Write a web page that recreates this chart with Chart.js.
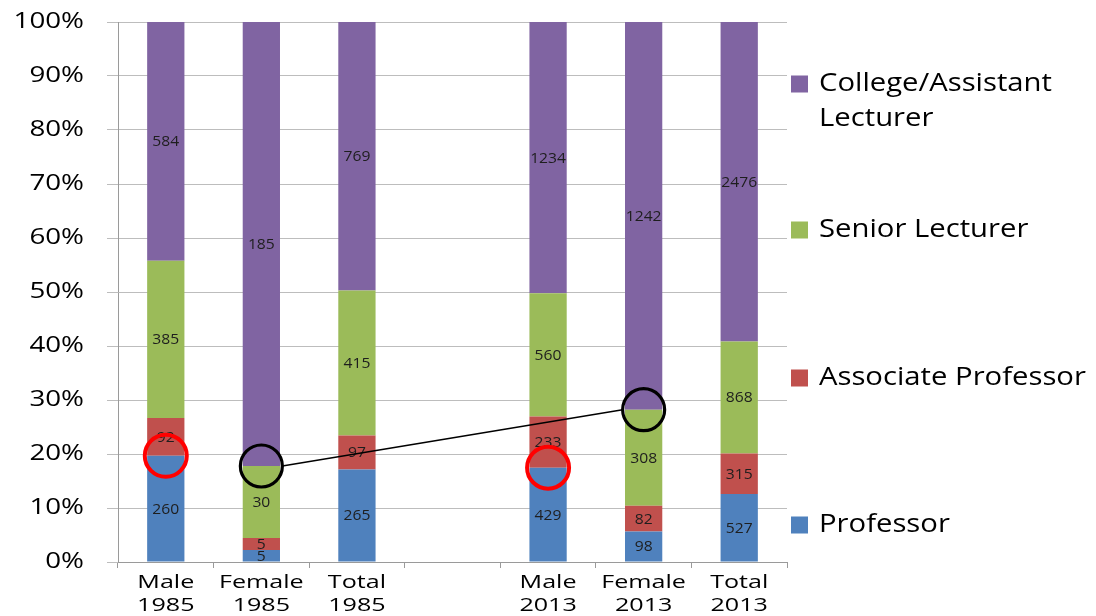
<!DOCTYPE html>
<html>
<head>
<meta charset="utf-8">
<title>Academic staff by grade and gender, 1985 and 2013</title>
<script src="https://cdn.jsdelivr.net/npm/chart.js@4.4.1/dist/chart.umd.min.js"></script>
<style>
  html, body { margin: 0; padding: 0; background: #ffffff; }
  #wrap { position: relative; width: 1096px; height: 616px; }
</style>
</head>
<body>
<div id="wrap"><canvas id="chart"></canvas></div>
<script>
// Categories (the blank entry keeps a gap between the two years)
const categories = [
  ['Male', '1985'], ['Female', '1985'], ['Total', '1985'],
  '',
  ['Male', '2013'], ['Female', '2013'], ['Total', '2013']
];

// Head counts per grade
const professor          = [260,  5, 265, null,  429,   98,  527];
const associateProfessor = [ 92,  5,  97, null,  233,   82,  315];
const seniorLecturer     = [385, 30, 415, null,  560,  308,  868];
const assistantLecturer  = [584, 185, 769, null, 1234, 1242, 2476];

const seriesNames  = ['Professor', 'Associate Professor', 'Senior Lecturer', 'College/Assistant Lecturer'];
const seriesColors = ['#4F81BD', '#C0504D', '#9BBB59', '#8064A2'];

// Percent axis ticks
const yTicks = [0, 10, 20, 30, 40, 50, 60, 70, 80, 90, 100];

// Highlighted stack boundaries: category index and how many grades lie below the mark
const redMarks   = [{ cat: 0, below: 1 }, { cat: 4, below: 1 }];
const blackMarks = [{ cat: 1, below: 3 }, { cat: 5, below: 3 }];

const counts = [professor, associateProfessor, seniorLecturer, assistantLecturer];
const totals = categories.map((_, i) =>
  counts.every(s => s[i] == null) ? null : counts.reduce((a, s) => a + (s[i] || 0), 0));
const toPercent = s => s.map((v, i) => v == null ? null : v / totals[i] * 100);
const cumulative = (cat, below) =>
  counts.slice(0, below).reduce((a, s) => a + s[cat], 0) / totals[cat] * 100;

const FONT = '"Open Sans", "Liberation Sans", sans-serif';

// Wide lettering: fillText draws glyphs stretched horizontally about their anchor
function enableStretch(ctx) {
  if (ctx.__stretchPatched) return;
  const orig = ctx.fillText;
  ctx.textStretch = 1;
  ctx.fillText = function (t, x, y, mw) {
    const s = this.textStretch || 1;
    if (s === 1) return orig.call(this, t, x, y, mw);
    this.save();
    this.translate(x, y);
    this.scale(s, 1);
    orig.call(this, t, 0, 0);
    this.restore();
  };
  ctx.__stretchPatched = true;
}

const axisStretch = {
  id: 'axisStretch',
  beforeDraw(chart) { enableStretch(chart.ctx); chart.ctx.textStretch = 1.32; }
};

// Head-count labels centred in each segment
const countLabels = {
  id: 'countLabels',
  afterDatasetsDraw(chart) {
    const ctx = chart.ctx;
    ctx.save();
    ctx.textStretch = 1.12;
    ctx.font = '14px ' + FONT;
    ctx.fillStyle = '#1e1e1e';
    ctx.textAlign = 'center';
    ctx.textBaseline = 'middle';
    chart.data.datasets.forEach((ds, i) => {
      chart.getDatasetMeta(i).data.forEach((bar, j) => {
        const n = ds.counts[j];
        if (n == null) return;
        const p = bar.getProps(['x', 'y', 'base'], true);
        ctx.fillText(String(n), p.x, (p.y + p.base) / 2 + 1);
      });
    });
    ctx.restore();
  }
};

// Circles on the highlighted boundaries, black ones joined by a line
const highlights = {
  id: 'highlights',
  afterDraw(chart) {
    const ctx = chart.ctx, xs = chart.scales.x, ys = chart.scales.y;
    const r = 21;
    const pos = m => ({ x: xs.getPixelForValue(m.cat), y: ys.getPixelForValue(cumulative(m.cat, m.below)) });
    ctx.save();
    ctx.strokeStyle = '#ff0000';
    ctx.lineWidth = 4;
    redMarks.forEach(m => {
      const p = pos(m);
      ctx.beginPath(); ctx.arc(p.x, p.y, r, 0, Math.PI * 2); ctx.stroke();
    });
    ctx.strokeStyle = '#000000';
    ctx.lineWidth = 3.2;
    const pts = blackMarks.map(pos);
    pts.forEach(p => { ctx.beginPath(); ctx.arc(p.x, p.y, r, 0, Math.PI * 2); ctx.stroke(); });
    ctx.lineWidth = 1.5;
    ctx.beginPath();
    ctx.moveTo(pts[0].x + r, pts[0].y);
    ctx.lineTo(pts[1].x - r, pts[1].y);
    ctx.stroke();
    ctx.restore();
  }
};

// Legend down the right-hand side, top grade first
const sideLegend = {
  id: 'sideLegend',
  afterDraw(chart) {
    const ctx = chart.ctx;
    const x0 = chart.chartArea.right + 4;
    const rows = [84, 230, 378, 525];
    ctx.save();
    ctx.textStretch = 1.17;
    ctx.font = '25px ' + FONT;
    ctx.textBaseline = 'middle';
    ctx.textAlign = 'left';
    const ds = chart.data.datasets.slice().reverse();
    ds.forEach((d, k) => {
      const cy = rows[k];
      ctx.fillStyle = d.backgroundColor;
      ctx.fillRect(x0, cy - 8.5, 17, 17);
      ctx.fillStyle = '#000000';
      const words = d.label.split(' ');
      const lines = words.length > 1 && d.label.length > 20 ? [words[0], words.slice(1).join(' ')] : [d.label];
      lines.forEach((t, li) => ctx.fillText(t, x0 + 28, cy + li * 35));
    });
    ctx.textStretch = 1;
    ctx.restore();
  }
};

new Chart(document.getElementById('chart'), {
  type: 'bar',
  data: {
    labels: categories,
    datasets: counts.map((s, i) => ({
      label: seriesNames[i],
      data: toPercent(s),
      counts: s,
      backgroundColor: seriesColors[i],
      borderWidth: 0,
      barPercentage: 0.39,
      categoryPercentage: 1
    }))
  },
  options: {
    responsive: true,
    maintainAspectRatio: false,
    animation: false,
    devicePixelRatio: 1,
    layout: { padding: { left: 0, right: 309, top: 22, bottom: 0 } },
    plugins: {
      legend: { display: false },
      tooltip: { enabled: false }
    },
    scales: {
      x: {
        stacked: true,
        grid: { display: true, drawOnChartArea: false, offset: true, tickLength: 6, color: '#9a9a9a' },
        border: { display: true, color: '#9a9a9a', width: 1 },
        ticks: {
          autoSkip: false, maxRotation: 0, minRotation: 0, padding: 3,
          color: '#000000', font: { family: FONT, size: 19, lineHeight: 1.2 }
        },
        afterFit(s) { s.height = 54; s.paddingLeft = 0; s.paddingRight = 0; }
      },
      y: {
        stacked: true,
        min: yTicks[0], max: yTicks[yTicks.length - 1],
        afterBuildTicks(s) { s.ticks = yTicks.map(v => ({ value: v })); },
        grid: { color: '#bdbdbd', tickLength: 11, lineWidth: 1 },
        border: { display: true, color: '#9a9a9a', width: 1 },
        ticks: {
          padding: 23, color: '#000000',
          font: { family: FONT, size: 21 },
          callback: v => v + '%'
        },
        afterFit(s) { s.width = 118; s.paddingTop = 0; s.paddingBottom = 0; }
      }
    }
  },
  plugins: [axisStretch, countLabels, highlights, sideLegend]
});
</script>
</body>
</html>
